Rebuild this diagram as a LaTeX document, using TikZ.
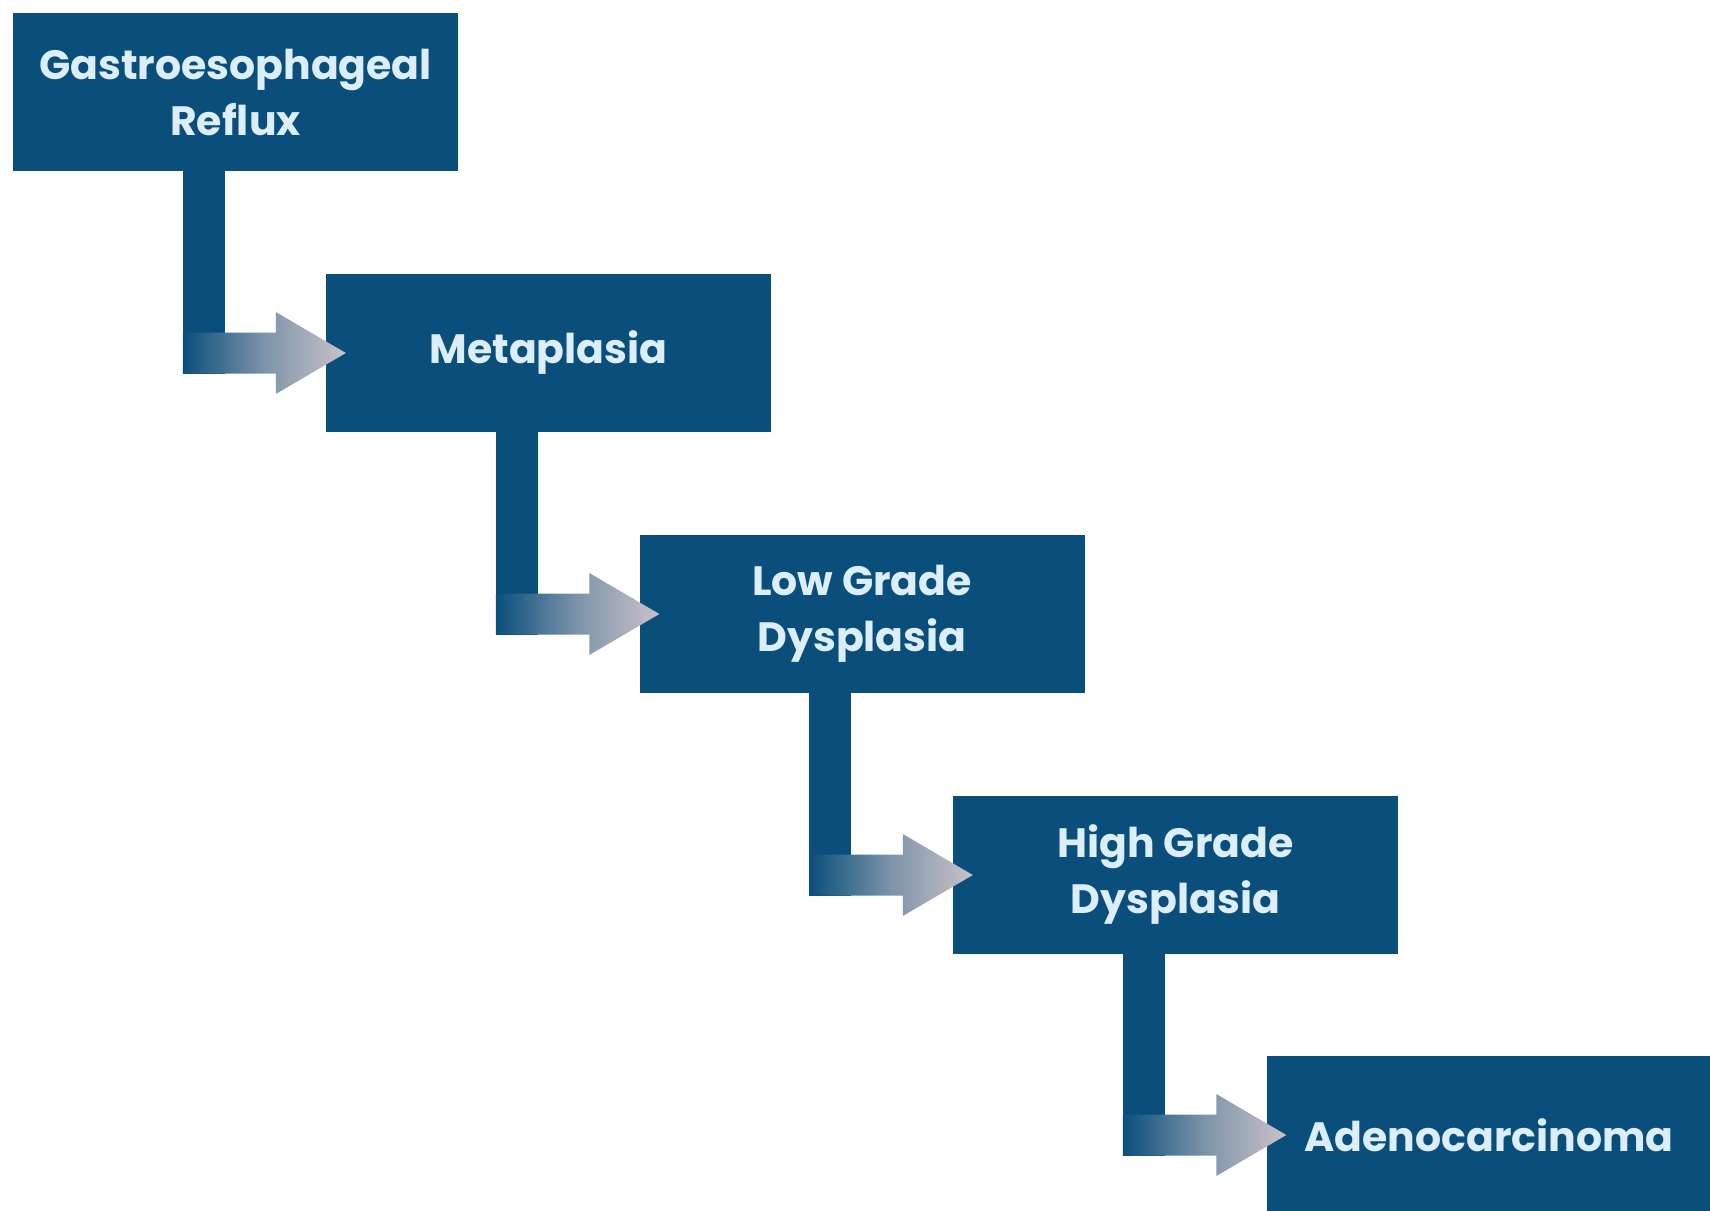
\documentclass[tikz,border=0pt]{standalone}
\usepackage{fontspec}
\setmainfont{Poppins}
\usetikzlibrary{calc}

\definecolor{boxblue}{RGB}{10,79,124}
\definecolor{boxtext}{RGB}{220,238,250}
\definecolor{tipgray}{RGB}{202,194,200}

\tikzset{
  stage/.style={fill=boxblue, text=boxtext, minimum width=445pt, minimum height=158pt,
    inner sep=0pt, align=center, font=\fontsize{41}{56}\selectfont\bfseries},
  flowbar/.style={fill=boxblue},
  flowhead/.style={left color=boxblue, right color=tipgray, middle color=boxblue!40!tipgray}
}

\begin{document}
\begin{tikzpicture}[x=1pt,y=-1pt]
\useasboundingbox (0,0) rectangle (1710,1210);
\fill[white] (0,0) rectangle (1710,1210);

% stages
\node[stage] (gerd)  at (235.5,92)   {Gastroesophageal\\Reflux};
\node[stage] (meta)  at (548.5,353)  {Metaplasia};
\node[stage] (lgd)   at (862,614)    {Low Grade\\Dysplasia};
\node[stage] (hgd)   at (1175.5,875) {High Grade\\Dysplasia};
\node[stage] (adeno) at (1489,1135)  {Adenocarcinoma};

% elbow arrows
\foreach \a/\b in {gerd/meta, meta/lgd, lgd/hgd, hgd/adeno}{
  \fill[flowbar] let \p1=(\a.south west), \p2=(\b.west) in
    (\x1+170pt,\y1) rectangle (\x1+212pt,\y2-20.5pt);
  \shade[flowhead] let \p1=(\a.south west), \p2=(\b.west) in
    (\x1+170pt,\y2+20.5pt) -- (\x2-50pt,\y2+20.5pt) -- (\x2-50pt,\y2+41pt)
    -- (\x2+20pt,\y2) -- (\x2-50pt,\y2-41pt) -- (\x2-50pt,\y2-20.5pt)
    -- (\x1+170pt,\y2-20.5pt) -- cycle;
}
\end{tikzpicture}
\end{document}
